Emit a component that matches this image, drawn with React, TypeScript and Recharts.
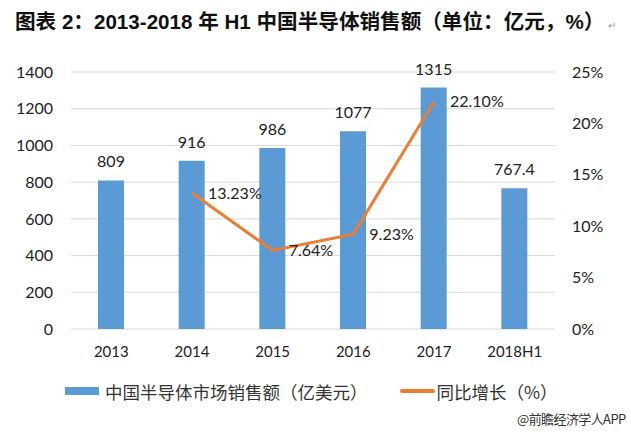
import React from 'react';
import { ComposedChart, Bar, Line, XAxis, YAxis, CartesianGrid, LabelList } from 'recharts';

const categories = ['2013', '2014', '2015', '2016', '2017', '2018H1'];
const salesValues = [809, 916, 986, 1077, 1315, 767.4];
const growthValues: (number | null)[] = [null, 13.23, 7.64, 9.23, 22.1, null];
const leftTicks = [0, 200, 400, 600, 800, 1000, 1200, 1400];
const rightTicks = [0, 5, 10, 15, 20, 25];

const data = categories.map((c, i) => ({ name: c, sales: salesValues[i], growth: growthValues[i] }));

const FONT = "Lato, 'Noto Sans CJK SC', sans-serif";
const CJK = "'Noto Sans CJK SC', sans-serif";
const BLUE = '#5B9BD5';
const ORANGE = '#ED7D31';

export default function App() {
  return (
    <div style={{ position: 'absolute', left: 0, top: 0, width: 631, height: 432, background: '#fff', fontFamily: FONT }}>
      <div style={{ position: 'absolute', left: 15, top: 5, fontFamily: "'Liberation Sans', 'Noto Sans CJK SC', sans-serif", fontWeight: 'bold', fontSize: 20.6, color: '#111', whiteSpace: 'nowrap' }}>
        图表 2：2013-2018 年 H1 中国半导体销售额（单位：亿元，%）<span style={{ fontSize: 10, color: '#999', fontWeight: 'normal', marginLeft: 4 }}>↵</span>
      </div>
      <ComposedChart width={631} height={432} data={data} margin={{ top: 72, right: 0, bottom: 73, left: 0 }} style={{ position: 'absolute', left: 0, top: 0 }}>
        <CartesianGrid yAxisId="left" vertical={false} stroke="#d9d9d9" />
        <XAxis dataKey="name" axisLine={false} tickLine={false} height={30} tickMargin={11} tick={{ fill: '#222', fontSize: 15, fontFamily: FONT }} />
        <YAxis yAxisId="left" orientation="left" width={71} domain={[0, 1400]} ticks={leftTicks} axisLine={false} tickLine={false} tickMargin={12} tick={{ fill: '#222', fontSize: 16, fontFamily: FONT }} interval={0} />
        <YAxis yAxisId="right" orientation="right" width={76} domain={[0, 25]} ticks={rightTicks} axisLine={false} tickLine={false} tickMargin={11} tickFormatter={(v: number) => v + '%'} tick={{ fill: '#222', fontSize: 16, fontFamily: FONT }} interval={0} />
        <Bar yAxisId="left" dataKey="sales" fill={BLUE} barSize={26} isAnimationActive={false}>
          <LabelList dataKey="sales" position="top" offset={13} fill="#222" fontSize={16} fontFamily={FONT} />
        </Bar>
        <Line yAxisId="right" dataKey="growth" stroke={ORANGE} strokeWidth={3} dot={false} activeDot={false} isAnimationActive={false} type="linear">
          <LabelList dataKey="growth" position="right" offset={16} fill="#222" fontSize={16} fontFamily={FONT} formatter={(v: any) => (v == null ? '' : Number(v).toFixed(2) + '%')} />
        </Line>
      </ComposedChart>
      <div style={{ position: 'absolute', left: 65, top: 378, height: 26, display: 'flex', alignItems: 'center', fontSize: 17.5, color: '#333', fontFamily: CJK, whiteSpace: 'nowrap' }}>
        <div style={{ width: 34, height: 8, background: BLUE, marginRight: 6 }} />
        <span>中国半导体市场销售额（亿美元）</span>
        <div style={{ width: 35, height: 4, background: ORANGE, marginLeft: 32, marginRight: 2, borderRadius: 2 }} />
        <span>同比增长（%）</span>
      </div>
      <div style={{ position: 'absolute', left: 517, top: 409, fontSize: 13, letterSpacing: -0.6, color: '#333', fontFamily: CJK, whiteSpace: 'nowrap' }}>
        @前瞻经济学人APP
      </div>
    </div>
  );
}
